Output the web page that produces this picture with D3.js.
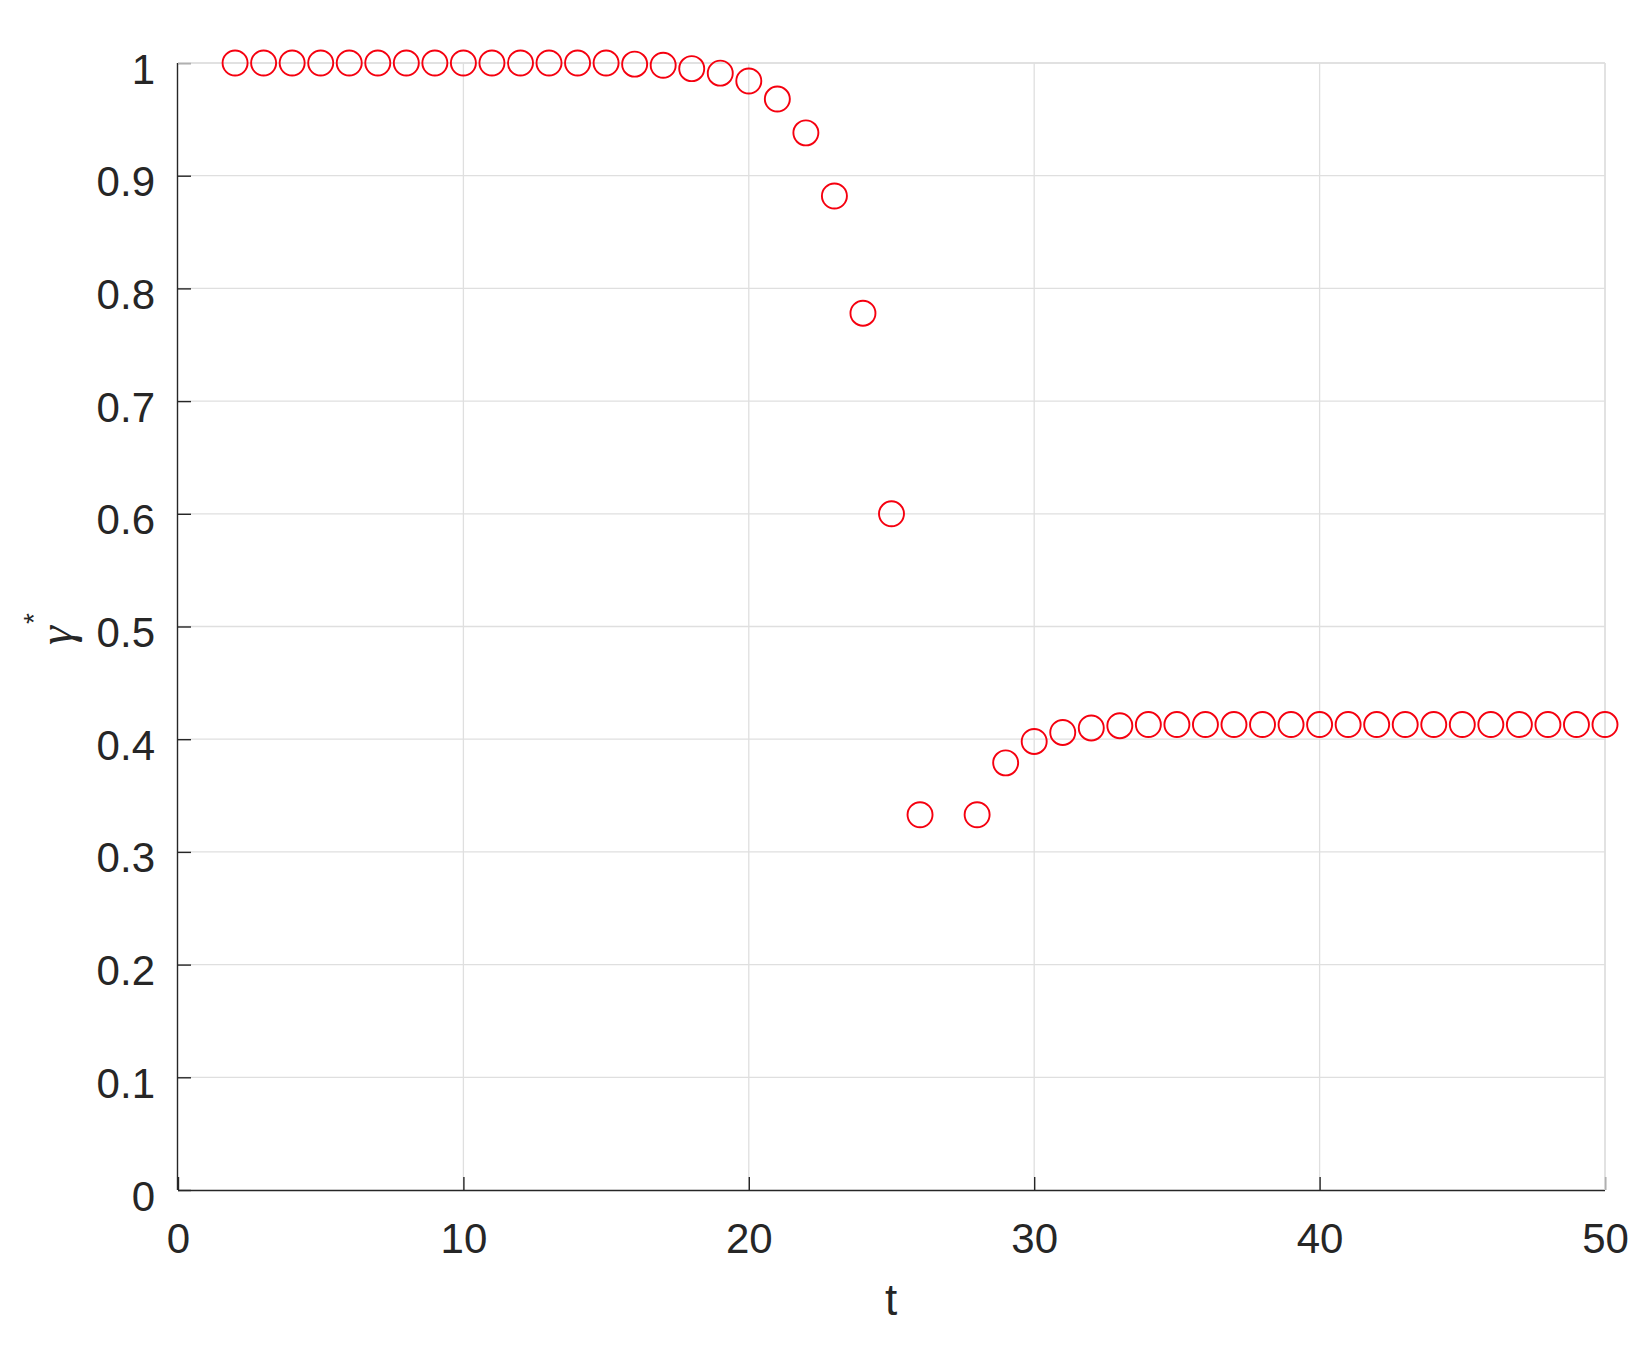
<!DOCTYPE html>
<html><head><meta charset="utf-8">
<script src="https://cdn.jsdelivr.net/npm/d3@7"></script>
<style>body{margin:0;background:#fff}svg{display:block}</style>
</head><body>
<script>
const tValues = [2,3,4,5,6,7,8,9,10,11,12,13,14,15,16,17,18,19,20,21,22,23,24,25,26,28,29,30,31,32,33,34,35,36,37,38,39,40,41,42,43,44,45,46,47,48,49,50];
const gammaValues = [1,1,1,1,1,1,1,1,1,1,1,1,1,1,0.999,0.998,0.995,0.991,0.984,0.968,0.938,0.882,0.778,0.600,0.333,0.333,0.379,0.398,0.406,0.410,0.412,0.413,0.413,0.413,0.413,0.413,0.413,0.413,0.413,0.413,0.413,0.413,0.413,0.413,0.413,0.413,0.413,0.413];
const xTicks = [0,10,20,30,40,50];
const yTicks = [0,0.1,0.2,0.3,0.4,0.5,0.6,0.7,0.8,0.9,1];

const W=1648,H=1346;
const L=178,R=1605,T=63,B=1190;
const svg=d3.select("body").append("svg").attr("width",W).attr("height",H);
const x=d3.scaleLinear().domain([0,50]).range([L,R]);
const y=d3.scaleLinear().domain([0,1]).range([B,T]);
const font="'Liberation Sans', Arial, sans-serif";
const grid="#dfdfdf", axc="#262626";

// grid
svg.append("g").selectAll("line").data(xTicks.slice(1)).join("line")
  .attr("x1",d=>x(d)).attr("x2",d=>x(d)).attr("y1",T).attr("y2",B)
  .attr("stroke",grid).attr("stroke-width",1.3);
svg.append("g").selectAll("line").data(yTicks.slice(1)).join("line")
  .attr("x1",L).attr("x2",R).attr("y1",d=>y(d)).attr("y2",d=>y(d))
  .attr("stroke",grid).attr("stroke-width",1.3);

// axes
const xAxis=d3.axisBottom(x).tickValues(xTicks).tickSizeInner(-13).tickSizeOuter(0).tickFormat(d3.format("d"));
const gx=svg.append("g").attr("transform",`translate(0,${B})`).call(xAxis);
gx.select(".domain").attr("stroke",axc).attr("stroke-width",1.4);
gx.selectAll(".tick line").attr("stroke",axc).attr("stroke-width",1.4);
gx.selectAll(".tick text").attr("y",63).attr("dy",0).attr("font-size",42).attr("font-family",font).attr("fill",axc);

const yAxis=d3.axisLeft(y).tickValues(yTicks).tickSizeInner(-13).tickSizeOuter(0).tickFormat(d=>d===0?"0":d===1?"1":d3.format(".1f")(d));
const gy=svg.append("g").attr("transform",`translate(${L},0)`).call(yAxis);
gy.select(".domain").attr("stroke",axc).attr("stroke-width",1.4);
gy.selectAll(".tick line").attr("stroke",axc).attr("stroke-width",1.4);
gy.selectAll(".tick text").attr("x",-23).attr("dy",20).attr("font-size",42).attr("font-family",font).attr("fill",axc);
gx.selectAll("path.domain").attr("d",`M${L},0.5H${R}`);
gy.selectAll("path.domain").attr("d",`M-0.5,${B}V${T}`);

// top/right box (light)
svg.append("line").attr("x1",L).attr("x2",R).attr("y1",T).attr("y2",T).attr("stroke",grid).attr("stroke-width",1.5);
svg.append("line").attr("x1",R).attr("x2",R).attr("y1",T).attr("y2",B).attr("stroke",grid).attr("stroke-width",1.5);

// points
const data=tValues.map((t,i)=>({t,g:gammaValues[i]}));
svg.append("g").selectAll("circle").data(data).join("circle")
  .attr("cx",d=>x(d.t)).attr("cy",d=>y(d.g)).attr("r",12.5)
  .attr("fill","none").attr("stroke","#f5000f").attr("stroke-width",1.9);

// labels
svg.append("text").attr("x",891).attr("y",1315).attr("text-anchor","middle")
  .attr("font-size",44).attr("font-family",font).attr("fill",axc).text("t");
const yl=svg.append("text").attr("transform","translate(72,629) rotate(-90)").attr("text-anchor","middle").attr("fill",axc);
yl.append("tspan").attr("font-family","'Liberation Serif', 'Times New Roman', serif").attr("font-style","italic").attr("font-size",48).text("γ");
yl.append("tspan").attr("font-family",font).attr("font-size",28).attr("dy",-29).attr("dx",2).text("*");
</script>
</body></html>
